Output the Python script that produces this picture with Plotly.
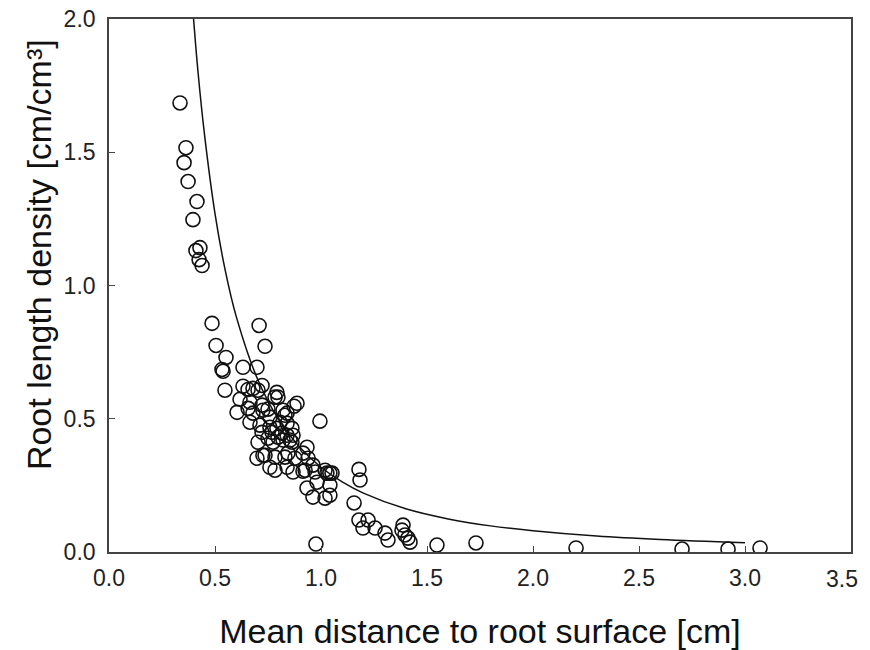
import plotly.graph_objects as go

# Observed data (mean distance to root surface [cm], root length density [cm/cm3])
distance = [
    0.335, 0.363, 0.354, 0.373, 0.415, 0.396, 0.410, 0.429, 0.425, 0.439,
    0.486, 0.708, 0.505, 0.736, 0.552, 0.533, 0.538, 0.632, 0.698,
    0.547, 0.632, 0.656, 0.679, 0.703, 0.722, 0.792, 0.797, 0.783,
    0.618, 0.665, 0.722, 0.750, 0.821, 0.887, 0.873,
    0.604, 0.656, 0.679, 0.726, 0.759, 0.830, 0.840,
    0.995,
    0.665, 0.712, 0.759, 0.792, 0.807, 0.840, 0.863,
    0.722, 0.769, 0.816, 0.840, 0.750, 0.797, 0.868,
    0.703, 0.774, 0.821, 0.854, 0.863, 0.934,
    0.698, 0.736, 0.783, 0.830, 0.844, 0.877, 0.915, 0.939, 0.726,
    0.759, 0.840, 0.915, 0.783, 0.868, 0.925, 0.962, 0.972,
    1.019, 1.028, 1.042, 1.052,
    0.934, 0.981, 0.962, 1.019, 1.042, 1.042,
    1.179, 1.184,
    1.156,
    1.179, 1.222, 1.198, 1.255, 1.302, 1.316,
    1.387, 1.382, 1.396, 1.410, 1.420,
    0.976, 1.547, 1.731, 2.203, 2.703, 2.920, 3.071,
]
density = [
    1.685, 1.517, 1.461, 1.390, 1.315, 1.247, 1.131, 1.142, 1.097, 1.075,
    0.858, 0.850, 0.775, 0.772, 0.730, 0.685, 0.678, 0.693, 0.693,
    0.607, 0.622, 0.610, 0.614, 0.607, 0.625, 0.599, 0.581, 0.581,
    0.573, 0.562, 0.551, 0.536, 0.532, 0.558, 0.547,
    0.524, 0.539, 0.521, 0.532, 0.506, 0.513, 0.521,
    0.491,
    0.487, 0.476, 0.468, 0.464, 0.487, 0.483, 0.464,
    0.449, 0.449, 0.446, 0.438, 0.427, 0.431, 0.438,
    0.412, 0.412, 0.420, 0.420, 0.412, 0.393,
    0.352, 0.363, 0.356, 0.356, 0.371, 0.352, 0.371, 0.352, 0.363,
    0.318, 0.318, 0.303, 0.307, 0.300, 0.307, 0.326, 0.300,
    0.307, 0.296, 0.296, 0.296,
    0.240, 0.262, 0.206, 0.202, 0.213, 0.251,
    0.310, 0.270,
    0.184,
    0.120, 0.120, 0.090, 0.090, 0.071, 0.045,
    0.101, 0.082, 0.064, 0.052, 0.037,
    0.030, 0.026, 0.034, 0.015, 0.011, 0.011, 0.015,
]

# Model curve
curve_x = [0.396, 0.42, 0.45, 0.50, 0.55, 0.60, 0.70, 0.80, 0.90, 1.00,
           1.10, 1.20, 1.40, 1.60, 1.80, 2.00, 2.30, 2.60, 3.00]
curve_y = [2.03, 1.80, 1.57, 1.27, 1.05, 0.884, 0.650, 0.497, 0.393, 0.318,
           0.263, 0.221, 0.162, 0.124, 0.098, 0.080, 0.060, 0.047, 0.035]

x_ticks = [0, 0.5, 1.0, 1.5, 2.0, 2.5, 3.0, 3.5]
x_labels = ["0.0", "0.5", "1.0", "1.5", "2.0", "2.5", "3.0", ""]
x_last_label = "3.5"
y_ticks = [0, 0.5, 1.0, 1.5, 2.0]
y_labels = ["0.0", "0.5", "1.0", "1.5", "2.0"]

FONT = "Liberation Sans, Arial, sans-serif"

fig = go.Figure()
fig.add_trace(go.Scatter(
    x=curve_x, y=curve_y, mode="lines", line_shape="spline",
    line=dict(color="#111111", width=1.5), hoverinfo="skip", showlegend=False,
))
fig.add_trace(go.Scatter(
    x=distance, y=density, mode="markers", showlegend=False,
    marker=dict(symbol="circle-open", size=14, color="#111111",
                line=dict(width=1.6, color="#111111")),
))

axis_common = dict(
    showline=True, linecolor="#444444", linewidth=1.6, mirror=True,
    ticks="inside", ticklen=6, tickwidth=1.2, tickcolor="#444444",
    showgrid=False, zeroline=False, automargin=False,
    ticklabeloverflow="allow",
    tickfont=dict(family=FONT, size=23, color="#222222"),
)

fig.update_layout(
    width=870, height=650,
    paper_bgcolor="white", plot_bgcolor="white",
    margin=dict(l=109, r=19, t=19, b=98),
    xaxis=dict(range=[0, 3.5], tickvals=x_ticks, ticktext=x_labels,
               ticklabelstandoff=5,
               title=dict(text="Mean distance to root surface [cm]",
                          font=dict(family=FONT, size=34, color="#111111"),
                          standoff=30),
               **axis_common),
    yaxis=dict(range=[0, 2.0], tickvals=y_ticks, ticktext=y_labels,
               ticklabelstandoff=7,
               **axis_common),
    annotations=[
        dict(text="Root length density [cm/cm³]", textangle=-90,
             xref="paper", yref="paper", x=0, y=0.557, xanchor="center", yanchor="middle",
             xshift=-70, showarrow=False,
             font=dict(family=FONT, size=34, color="#111111")),
        dict(text=x_last_label, xref="x", yref="paper", x=x_ticks[-1], y=0,
             xanchor="center", yanchor="top", xshift=-9, yshift=-12, showarrow=False,
             font=dict(family=FONT, size=23, color="#222222")),
    ],
)

fig.write_html("out.html", config={"displayModeBar": False},
               post_script="document.body.style.margin='0px';")
